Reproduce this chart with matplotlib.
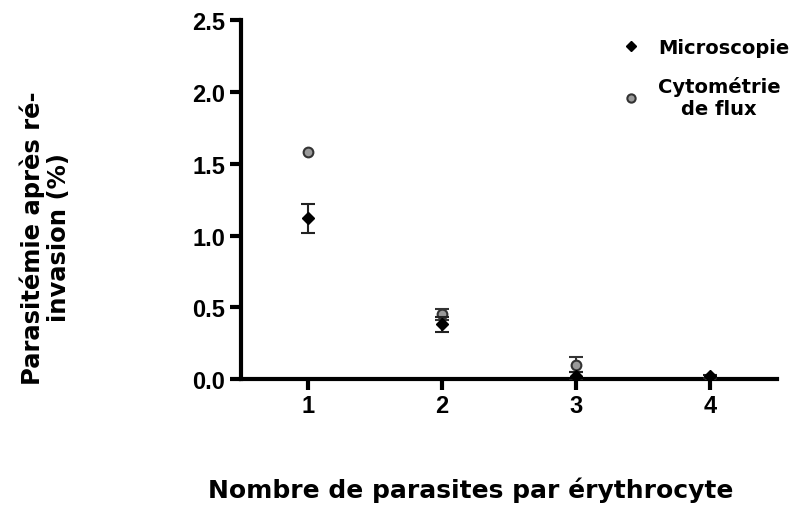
import matplotlib

matplotlib.use('Agg')
import matplotlib.pyplot as plt

# data
nombre = [1, 2, 3, 4]
microscopie = [1.12, 0.38, 0.02, 0.02]
microscopie_err = [0.10, 0.05, 0.03, 0.01]
cytometrie = [1.58, 0.45, 0.10, 0.01]
cytometrie_err = [float('nan'), 0.04, 0.05, float('nan')]
y_ticks = [0.0, 0.5, 1.0, 1.5, 2.0, 2.5]

fig = plt.figure(figsize=(7.97, 5.06), dpi=100)
ax = fig.add_axes([0.302, 0.249, 0.673, 0.709])

ax.errorbar(nombre, cytometrie, yerr=cytometrie_err, fmt='o', color='#9a9a9a',
            mec='#333333', mew=1.5, ms=7, ecolor='#333333', elinewidth=1.5,
            capsize=5, capthick=1.5, label='Cytométrie\nde flux', zorder=3)
ax.errorbar(nombre, microscopie, yerr=microscopie_err, fmt='D', color='black',
            ms=6, ecolor='#222222', elinewidth=1.5, capsize=5, capthick=1.5,
            label='Microscopie', zorder=4)

ax.set_xlim(0.5, 4.5)
ax.set_ylim(0, 2.5)
ax.set_xticks(nombre)
ax.set_yticks(y_ticks)
ax.set_yticklabels([f'{v:.1f}' for v in y_ticks])

for side in ['top', 'right']:
    ax.spines[side].set_visible(False)
for side in ['left', 'bottom']:
    ax.spines[side].set_linewidth(3)
ax.tick_params(width=3, length=8, labelsize=17, pad=3)
for lab in ax.get_xticklabels() + ax.get_yticklabels():
    lab.set_fontfamily('Liberation Sans')
    lab.set_fontweight('bold')

handles, labels = ax.get_legend_handles_labels()
handles = [h[0] for h in handles[::-1]]
labels = labels[::-1]
leg = ax.legend(handles, labels, loc='upper right', bbox_to_anchor=(1.055, 1.0),
                frameon=False, handletextpad=0.8, labelspacing=1.0,
                handlelength=1.2, markerscale=0.85,
                prop={'family': 'DejaVu Sans', 'weight': 'bold', 'size': 14})
for t in leg.get_texts():
    t.set_multialignment('center')

fig.text(0.057, 0.53, 'Parasitémie après ré-\ninvasion (%)', rotation=90,
         ha='center', va='center', fontsize=17.5, fontweight='bold',
         family='DejaVu Sans', multialignment='center', linespacing=1.1)
fig.text(0.591, 0.032, 'Nombre de parasites par érythrocyte', ha='center',
         va='center', fontsize=18, fontweight='bold', family='DejaVu Sans')

fig.savefig('out.png', dpi=100)
